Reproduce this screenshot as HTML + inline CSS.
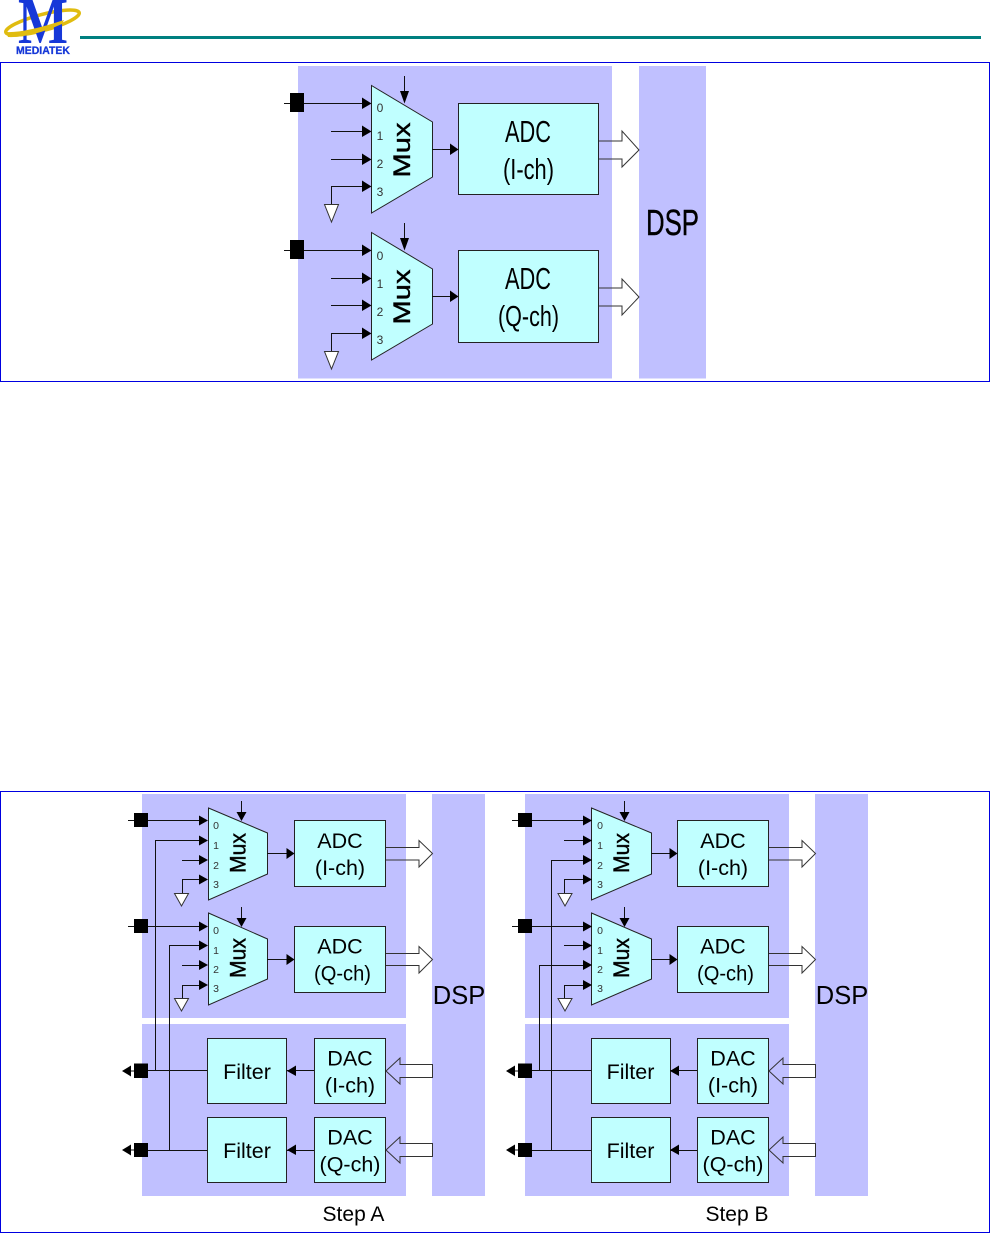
<!DOCTYPE html>
<html><head><meta charset="utf-8"><style>
html,body{margin:0;padding:0;background:#fff}
svg{display:block}
text{font-family:"Liberation Sans",sans-serif;fill:#000;text-anchor:middle}
.p{fill:#c0c0ff}
.b{fill:#c0ffff;stroke:#222;stroke-width:1}
.l{fill:none;stroke:#111;stroke-width:1}
.h{fill:#000;stroke:none}
.o{fill:none;stroke:#333;stroke-width:1}
.w{fill:#fff;stroke:#333;stroke-width:1}
.n{font-size:12px;fill:#333}
.s{font-size:10.5px;fill:#333}
.t{font-size:21.5px}
.m{stroke:#000;stroke-width:.4}
</style></head><body>
<svg width="990" height="1233" viewBox="0 0 990 1233" xmlns="http://www.w3.org/2000/svg">
<!-- logo -->
<rect x="80" y="36" width="901" height="3" fill="#008080"/>
<ellipse cx="42.500" cy="22.500" rx="38" ry="8" transform="rotate(-15 42.500 22.500)" fill="none" stroke="#e0bc10" stroke-width="3.500"/>
<text x="43" y="43" font-size="66" textLength="50" lengthAdjust="spacingAndGlyphs" style="font-family:'Liberation Serif',serif;font-weight:bold;fill:#1638d8">M</text>
<path d="M6 32 Q25 33 64 20 L62 24 Q30 38 8 37Z" fill="#e0bc10"/>
<text x="43" y="54" font-size="11" textLength="54" lengthAdjust="spacingAndGlyphs" style="font-weight:bold;fill:#1638d8;stroke:#1638d8;stroke-width:.3">MEDIATEK</text>

<!-- top frame -->
<rect x="0.5" y="62.5" width="989" height="319" fill="#fff" stroke="#0000e0"/>
<rect class="p" x="298" y="66" width="314" height="312.500"/>
<rect class="p" x="639" y="66" width="67" height="312.500"/>
<text x="672.500" y="235" font-size="36" textLength="53" lengthAdjust="spacingAndGlyphs" class="m">DSP</text>

<polygon class="b" points="371.500,85.500 432.500,122 432.500,177 371.500,213"/>
<polygon class="b" points="371.500,232.500 432.500,269 432.500,324 371.500,360"/>
<rect class="b" x="458.500" y="103.500" width="140" height="91"/>
<rect class="b" x="458.500" y="250.500" width="140" height="92"/>
<path class="l" d="M284 103.500H365M331 131.500H365M331 159.500H365M331 186.500H365M331.500 186V204M404.500 76V95M432 149.500H452M284 250.500H365M331 278.500H365M331 305.500H365M331 333.500H365M331.500 333V351M404.500 223V242M432 296.500H452"/>
<rect class="h" x="290" y="93" width="14" height="19"/>
<rect class="h" x="290" y="240" width="14" height="19"/>
<path class="h" d="M362 97.500V109L371.500 103.500ZM362 125.500V137L371.500 131.500ZM362 153.500V165L371.500 159.500ZM362 180.500V192L371.500 186.500ZM400 91H409L404.500 103.500ZM450 143.500V155L458.500 149.500ZM362 244.500V256L371.500 250.500ZM362 272.500V284L371.500 278.500ZM362 299.500V311L371.500 305.500ZM362 327.500V339L371.500 333.500ZM400 238H409L404.500 250.500ZM450 290.500V302L458.500 296.500Z"/>
<polygon class="w" points="324.500,204.500 338.500,204.500 331.500,222"/>
<polygon class="w" points="324.500,351.500 338.500,351.500 331.500,369"/>
<path class="o" d="M599 141H622V131L639 150L622 167V159H599"/>
<path class="o" d="M599 288H622V279L639 297L622 315V306H599"/>
<text class="n" x="380" y="112">0</text><text class="n" x="380" y="140">1</text><text class="n" x="380" y="168">2</text><text class="n" x="380" y="196">3</text><text class="n" x="380" y="260">0</text><text class="n" x="380" y="288">1</text><text class="n" x="380" y="316">2</text><text class="n" x="380" y="344">3</text>
<text class="m" transform="translate(410 150) rotate(-90)" font-size="24" textLength="55" lengthAdjust="spacingAndGlyphs">Mux</text>
<text class="m" transform="translate(410 297) rotate(-90)" font-size="24" textLength="55" lengthAdjust="spacingAndGlyphs">Mux</text>
<text x="528" y="142" font-size="31" textLength="46" lengthAdjust="spacingAndGlyphs">ADC</text>
<text x="528.500" y="179" font-size="29" textLength="51" lengthAdjust="spacingAndGlyphs">(I-ch)</text>
<text x="528" y="289" font-size="31" textLength="46" lengthAdjust="spacingAndGlyphs">ADC</text>
<text x="528.500" y="326" font-size="29" textLength="61" lengthAdjust="spacingAndGlyphs">(Q-ch)</text>

<!-- bottom frame -->
<rect x="0.5" y="791.5" width="989" height="441" fill="#fff" stroke="#0000e0"/>

<!-- Step A -->
<rect class="p" x="142" y="794" width="264" height="224"/>
<rect class="p" x="142" y="1024" width="264" height="172"/>
<rect class="p" x="432" y="794" width="53" height="402"/>
<text x="459" y="1004" font-size="25.500">DSP</text>
<polygon class="b" points="208.500,808 267.500,833 267.500,874 208.500,900"/>
<polygon class="b" points="208.500,913 267.500,939 267.500,979 208.500,1005"/>
<rect class="b" x="294.500" y="820.500" width="91" height="66"/>
<rect class="b" x="294.500" y="926.500" width="91" height="66"/>
<rect class="b" x="207.500" y="1038.500" width="79" height="65"/>
<rect class="b" x="207.500" y="1117.500" width="79" height="65"/>
<rect class="b" x="314.500" y="1038.500" width="71" height="65"/>
<rect class="b" x="314.500" y="1117.500" width="71" height="65"/>
<path class="l" d="M128 820.500H201M155.500 840.500H201M155.500 840V1071M182 860.500H201M182 879.500H201M182.500 879V893M241.500 801V814M267 853.500H288M128 926.500H201M169.500 945.500H201M169.500 945V1150M182 965.500H201M182 985.500H201M182.500 985V998M241.500 907V920M267 959.500H288M128 1071H134M148 1070.500H207M128 1150H134M148 1150.500H207M287 1070.500H314M287 1150.500H314"/>
<path class="h" d="M199 815.500V825.500L208 820.500ZM199 835.500V845.500L208 840.500ZM199 855V865L208 860ZM199 874.500V884.500L208 879.500ZM236.500 812H246.500L241.500 821ZM286.500 848V859L294.500 853.500ZM199 921.500V931.500L208 926.500ZM199 940.500V950.500L208 945.500ZM199 960V970L208 965ZM199 980V990L208 985ZM236.500 918H246.500L241.500 927ZM286.500 954V965L294.500 959.500ZM131 1065.500V1076.500L122 1071ZM131 1144.500V1155.500L122 1150ZM296 1065.500V1076L287 1071ZM296 1144.500V1155L287 1150Z"/>
<rect class="h" x="134" y="813" width="14" height="14"/>
<rect class="h" x="134" y="919" width="14" height="14"/>
<rect class="h" x="134" y="1063.500" width="14" height="14.500"/>
<rect class="h" x="134" y="1143" width="14" height="14"/>
<polygon class="w" points="174.500,893.500 188.500,893.500 181.500,906"/>
<polygon class="w" points="174.500,998.500 188.500,998.500 181.500,1011"/>
<path class="o" d="M386 847.500H419V840.500L432.500 853.500L419 867V860H386"/>
<path class="o" d="M386 953.500H419V946.500L432.500 959.500L419 973V965.500H386"/>
<path class="o" d="M432.500 1064.500H400V1058L386 1071L400 1084V1077.500H432.500Z"/>
<path class="o" d="M432.500 1143.500H400V1137L386 1150L400 1163V1156.500H432.500Z"/>
<text class="s" x="216" y="829">0</text><text class="s" x="216" y="849">1</text><text class="s" x="216" y="869">2</text><text class="s" x="216" y="888">3</text>
<text class="s" x="216" y="934">0</text><text class="s" x="216" y="954">1</text><text class="s" x="216" y="973">2</text><text class="s" x="216" y="992">3</text>
<text class="m" transform="translate(245.500 853) rotate(-90)" font-size="22" textLength="40" lengthAdjust="spacingAndGlyphs">Mux</text>
<text class="m" transform="translate(245.500 958) rotate(-90)" font-size="22" textLength="40" lengthAdjust="spacingAndGlyphs">Mux</text>
<text class="t" x="340" y="848">ADC</text><text class="t" x="340" y="875">(I-ch)</text>
<text class="t" x="340" y="953.500">ADC</text><text class="t" x="342.500" y="980.500" textLength="57" lengthAdjust="spacingAndGlyphs">(Q-ch)</text>
<text class="t" x="247" y="1079">Filter</text><text class="t" x="247" y="1158">Filter</text>
<text class="t" x="350" y="1065.500">DAC</text><text class="t" x="350" y="1092.500">(I-ch)</text>
<text class="t" x="350" y="1144.500">DAC</text><text class="t" x="350" y="1171.500">(Q-ch)</text>
<text x="353.500" y="1221" font-size="21">Step A</text>

<!-- Step B -->
<rect class="p" x="525" y="794" width="264" height="224"/>
<rect class="p" x="525" y="1024" width="264" height="172"/>
<rect class="p" x="815" y="794" width="53" height="402"/>
<text x="842" y="1004" font-size="25.500">DSP</text>
<polygon class="b" points="591.500,808 651.500,833 651.500,874 591.500,900"/>
<polygon class="b" points="591.500,913 651.500,939 651.500,979 591.500,1005"/>
<rect class="b" x="677.500" y="820.500" width="91" height="66"/>
<rect class="b" x="677.500" y="926.500" width="91" height="66"/>
<rect class="b" x="591.500" y="1038.500" width="79" height="65"/>
<rect class="b" x="591.500" y="1117.500" width="79" height="65"/>
<rect class="b" x="697.500" y="1038.500" width="71" height="65"/>
<rect class="b" x="697.500" y="1117.500" width="71" height="65"/>
<path class="l" d="M512 820.500H584M564 840.500H584M551.500 860.500H584M551.500 860V1150M564 879.500H584M564.500 879V893M624.500 801V814M651 853.500H671M512 926.500H584M564 945.500H584M539.500 965.500H584M539.500 965V1071M564 985.500H584M564.500 985V998M624.500 907V920M651 959.500H671M512 1071H518M532 1070.500H591M512 1150H518M532 1150.500H591M670 1070.500H697M670 1150.500H697"/>
<path class="h" d="M583 815.500V825.500L592 820.500ZM583 835.500V845.500L592 840.500ZM583 855V865L592 860ZM583 874.500V884.500L592 879.500ZM619.500 812H629.500L624.500 821ZM669.500 848V859L677.500 853.500ZM583 921.500V931.500L592 926.500ZM583 940.500V950.500L592 945.500ZM583 960V970L592 965ZM583 980V990L592 985ZM619.500 918H629.500L624.500 927ZM669.500 954V965L677.500 959.500ZM515 1065.500V1076.500L506 1071ZM515 1144.500V1155.500L506 1150ZM679 1065.500V1076L670 1071ZM679 1144.500V1155L670 1150Z"/>
<rect class="h" x="518" y="813" width="14" height="14"/>
<rect class="h" x="518" y="919" width="14" height="14"/>
<rect class="h" x="518" y="1063.500" width="14" height="14.500"/>
<rect class="h" x="518" y="1143" width="14" height="14"/>
<polygon class="w" points="558,893.500 572,893.500 565,906"/>
<polygon class="w" points="558,998.500 572,998.500 565,1011"/>
<path class="o" d="M769 847.500H802V840.500L815.500 853.500L802 867V860H769"/>
<path class="o" d="M769 953.500H802V946.500L815.500 959.500L802 973V965.500H769"/>
<path class="o" d="M815.500 1064.500H783V1058L769 1071L783 1084V1077.500H815.500Z"/>
<path class="o" d="M815.500 1143.500H783V1137L769 1150L783 1163V1156.500H815.500Z"/>
<text class="s" x="600" y="829">0</text><text class="s" x="600" y="849">1</text><text class="s" x="600" y="869">2</text><text class="s" x="600" y="888">3</text>
<text class="s" x="600" y="934">0</text><text class="s" x="600" y="954">1</text><text class="s" x="600" y="973">2</text><text class="s" x="600" y="992">3</text>
<text class="m" transform="translate(629 853) rotate(-90)" font-size="22" textLength="40" lengthAdjust="spacingAndGlyphs">Mux</text>
<text class="m" transform="translate(629 958) rotate(-90)" font-size="22" textLength="40" lengthAdjust="spacingAndGlyphs">Mux</text>
<text class="t" x="723" y="848">ADC</text><text class="t" x="723" y="875">(I-ch)</text>
<text class="t" x="723" y="953.500">ADC</text><text class="t" x="725.500" y="980.500" textLength="57" lengthAdjust="spacingAndGlyphs">(Q-ch)</text>
<text class="t" x="630.500" y="1079">Filter</text><text class="t" x="630.500" y="1158">Filter</text>
<text class="t" x="733" y="1065.500">DAC</text><text class="t" x="733" y="1092.500">(I-ch)</text>
<text class="t" x="733" y="1144.500">DAC</text><text class="t" x="733" y="1171.500">(Q-ch)</text>
<text x="737" y="1221" font-size="21">Step B</text>
</svg>
</body></html>
